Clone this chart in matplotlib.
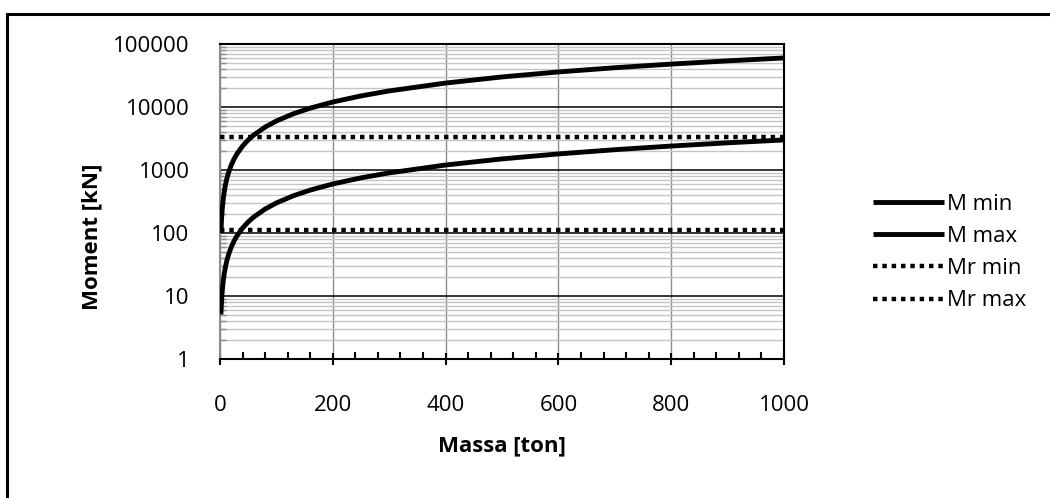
import matplotlib
matplotlib.use("Agg")
import matplotlib.pyplot as plt
from matplotlib.ticker import FixedLocator, NullFormatter, LogLocator
from matplotlib.patches import Rectangle

plt.rcParams['font.family'] = ['Open Sans', 'DejaVu Sans']

# values
massa = [1.7, 2, 2.5, 3, 4, 5, 6, 7, 8, 10, 12, 15, 20, 25, 30, 40, 50, 60, 80,
         100, 130, 160, 200, 250, 300, 400, 500, 600, 700, 800, 900, 1000]
m_max = [100, 120, 150, 180, 240, 300, 360, 420, 480, 600, 720, 900, 1200, 1500,
         1800, 2400, 3000, 3600, 4800, 6000, 7800, 9600, 12000, 15000, 18000,
         24000, 30000, 36000, 42000, 48000, 54000, 60000]
m_min = [5.1, 6, 7.5, 9, 12, 15, 18, 21, 24, 30, 36, 45, 60, 75, 90, 120, 150,
         180, 240, 300, 390, 480, 600, 750, 900, 1200, 1500, 1800, 2100, 2400,
         2700, 3000]
mr_x = [0, 1000]
mr_min = [110, 110]
mr_max = [3300, 3300]

y_ticks = [1, 10, 100, 1000, 10000, 100000]
y_labels = ['1', '10', '100', '1000', '10000', '100000']
x_ticks = [0, 200, 400, 600, 800, 1000]

W, H = 1050, 498
fig = plt.figure(figsize=(W / 100, H / 100), dpi=100)
ax = fig.add_axes([220 / W, (H - 359) / H, 564 / W, 315 / H])

ax.set_yscale('log')
ax.set_xlim(0, 1000)
ax.set_ylim(1, 100000)

ax.plot(massa, m_min, color='black', lw=3.5, label='M min', solid_capstyle='butt', zorder=5)
ax.plot(massa, m_max, color='black', lw=3.5, label='M max', solid_capstyle='butt', zorder=5)
ax.plot(mr_x, mr_min, color='black', lw=3.2, ls=(0, (1, 1.1)), dash_capstyle='butt',
        label='Mr min', zorder=4)
ax.plot(mr_x, mr_max, color='black', lw=3.2, ls=(0, (1, 1.1)), dash_capstyle='butt',
        label='Mr max', zorder=4)

# ticks
ax.yaxis.set_major_locator(FixedLocator(y_ticks))
ax.set_yticklabels(y_labels)
ax.yaxis.set_minor_locator(LogLocator(base=10, subs=range(2, 10), numticks=20))
ax.yaxis.set_minor_formatter(NullFormatter())
ax.set_xticks(x_ticks)
ax.set_xticks(range(0, 1001, 40), minor=True)

ax.tick_params(axis='both', which='major', labelsize=16)
ax.tick_params(axis='x', which='major', direction='inout', length=8, width=1.5,
               pad=22, color='black')
ax.tick_params(axis='x', which='minor', direction='in', length=5, width=1.5, color='black')
ax.tick_params(axis='y', which='major', direction='in', length=0, pad=22)
ax.tick_params(axis='y', which='minor', direction='in', length=4, width=1, color='#8c8c8c')

# grid
ax.grid(True, axis='y', which='major', color='black', lw=1.1)
ax.grid(True, axis='y', which='minor', color='#c4c4c4', lw=1.0)
ax.grid(True, axis='x', which='major', color='#8c8c8c', lw=1.0)
ax.set_axisbelow(True)

for s in ['top', 'right', 'bottom']:
    ax.spines[s].set_color('black')
    ax.spines[s].set_linewidth(1.5)
ax.spines['left'].set_color('#8c8c8c')
ax.spines['left'].set_linewidth(1.5)

fig.text(502 / W, 1 - 446 / H, 'Massa [ton]', ha='center', va='center',
         fontsize=16, fontweight='bold')
fig.text(92 / W, 1 - 237 / H, 'Moment [kN]', ha='center', va='center',
         rotation=90, fontsize=16, fontweight='bold')

fig.legend(loc='upper left', bbox_to_anchor=(873 / W, 1 - 194 / H), frameon=False,
           fontsize=16, handlelength=3.2, handletextpad=0.15, labelspacing=0.5,
           borderpad=0, borderaxespad=0)

# chart area border
fig.patches.append(Rectangle((7 / W, -0.1), 1.2, 1 - 14 / H + 0.1, transform=fig.transFigure,
                             fill=False, edgecolor='black', lw=2.2, figure=fig))

fig.savefig('out.png', dpi=100)
